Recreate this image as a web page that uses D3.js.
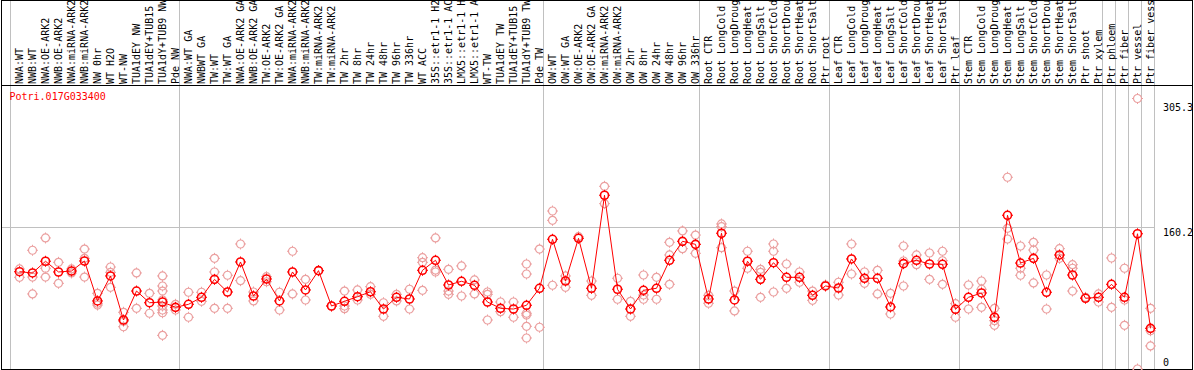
<!DOCTYPE html>
<html><head><meta charset="utf-8">
<script src="https://cdn.jsdelivr.net/npm/d3@7"></script>
<style>html,body{margin:0;padding:0;background:#fff;overflow:hidden}</style>
</head><body>
<svg id="c" width="1194" height="370"></svg>
<script>
const title = "Potri.017G033400";
const categories = ["NWA:WT","NWB:WT","NWA:OE-ARK2","NWB:OE-ARK2","NWA:miRNA-ARK2","NWB:miRNA-ARK2","NW 0hr","WT H2O","WT-NW","TUA1dEY NW","TUA1dEY+TUB15","TUA1dY+TUB9 NW","Pde NW",
"NWA:WT GA","NWBWT GA","TW:WT","TW:WT GA","NWA:OE-ARK2 GA","NWB:OE-ARK2 GA","TW:OE-ARK2","TW:OE-ARK2 GA","NWA:miRNA-ARK2","NWB:miRNA-ARK2","TW:miRNA-ARK2","TW:miRNA-ARK2","TW 2hr","TW 8hr","TW 24hr","TW 48hr","TW 96hr","TW 336hr","WT ACC","35S::etr1-1 H2O","35S::etr1-1 ACC","LMX5::etr1-1 H2O","LMX5::etr1-1 ACC","WT-TW","TUA1dEY TW","TUA1dEY+TUB15","TUA1dY+TUB9 TW","Pde TW",
"OW:WT","OW:WT GA","OW:OE-ARK2","OW:OE-ARK2 GA","OW:miRNA-ARK2","OW:miRNA-ARK2","OW 2hr","OW 8hr","OW 24hr","OW 48hr","OW 96hr","OW 336hr",
"Root CTR","Root LongCold","Root LongDrought","Root LongHeat","Root LongSalt","Root ShortCold","Root ShortDrought","Root ShortHeat","Root ShortSalt","Ptr root",
"Leaf CTR","Leaf LongCold","Leaf LongDrought","Leaf LongHeat","Leaf LongSalt","Leaf ShortCold","Leaf ShortDrought","Leaf ShortHeat","Leaf ShortSalt","Ptr leaf",
"Stem CTR","Stem LongCold","Stem LongDrought","Stem LongHeat","Stem LongSalt","Stem ShortCold","Stem ShortDrought","Stem ShortHeat","Stem ShortSalt","Ptr shoot","Ptr xylem",
"Ptr phloem","Ptr fiber","Ptr vessel","Ptr fiber vessel"];
const groupSizes = [13,28,12,10,10,11,1,1,1,1];
const means = [109.8,108.4,121.6,109.5,110.6,121.9,76.8,105.0,55.3,88.0,74.8,75.6,69.6,
73.0,80.9,101.2,86.9,120.8,82.4,101.6,76.8,109.5,89.2,111.0,71.1,76.4,81.6,87.2,67.7,80.9,79.0,111.4,122.7,94.8,99.0,94.5,75.6,68.5,67.7,71.9,91.1,
146.4,99.3,147.5,91.1,196.1,90.0,67.7,88.8,91.1,122.7,144.1,140.7,
79.0,153.2,77.9,121.6,101.2,120.0,103.5,103.5,83.2,93.7,
91.4,124.2,102.4,102.4,70.0,118.9,122.7,118.5,118.2,67.4,
80.9,85.8,58.4,173.5,119.6,124.9,86.6,128.7,106.1,79.8,80.9,
95.6,80.9,152.65,45.9];
const replicates = [[112.9,103.5],[134.0,103.8,84.7],[147.9,113.7,103.8],[120.4,96.7],[112.9,108.4],[135.4,124.9,103.8],[85.4,74.2,72.2],[115.1,109.1,92.2],[64.0,53.8,47.7],[108.4,68.5],[85.4,62.9],[105.0,93.7,88.0,77.9,71.1,66.6,63.5,38.0],[73.0,66.6],
[86.6,58.4],[86.6,76.4],[124.9,109.5,68.5],[105.8,68.5],[141.1,99.7],[86.9,76.8],[104.2,98.5],[86.6,66.6],[132.9,84.7],[101.2,77.9],[111.0],[71.1],[88.0,71.1,68.1],[89.2,77.9],[92.9,84.3],[74.8,59.5],[84.3,76.8],[90.0,67.7],[125.6,120.4,88.8],[147.9,111.7,109.5],[112.5,88.0,84.3],[116.3,82.4],[100.5,84.7],[86.9,84.3,55.3],[75.6,64.7],[75.6,58.4],[118.5,107.2,62.9,60.9,48.2,35.0],[135.4,47.1],
[178.3,167.8,94.5],[105.0,92.2],[149.3],[99.3,83.2],[206.2,186.6],[102.4,78.7],[76.4,59.5],[106.1,83.5,78.7],[103.5,78.7],[143.0,128.7,95.6],[155.8,135.8],[151.2,130.6],
[83.2,74.2],[163.7,160.6,136.9],[88.0,65.5],[132.9,113.7],[112.5,109.1,80.9],[141.1,132.9,86.9],[118.5,91.1],[109.5,97.9],[88.0,77.5],[94.8],
[97.9,83.5],[141.1,107.2],[109.5,96.7],[111.4,84.7],[85.4,62.1],[138.8,121.9,93.7],[128.7,117.7],[130.9,101.2],[132.9,122.2,95.6],[73.7,58.4],
[94.8,67.7],[99.3,90.0,69.6],[68.5,54.5,49.3],[216.4,158.8,146.7],[138.8,113.7,105.8],[143.0,134.3,97.1],[106.1,67.7],[135.8,124.9],[117.7,113.7,88.0],[80.9],[84.7,75.6],
[125.3,69.6],[113.7,77.9,49.3],[305.3,0],[68.5,43.2,26.0]];
const yTicks = [0,160.2,305.3];

const svg = d3.select("#c");
const W = 1194, H = 370;
const headerBottom = 85.5, plotBottom = 369.5;
const x = d3.scaleBand().domain(d3.range(categories.length)).range([10.5, 10.5 + 13*categories.length]).paddingInner(0).paddingOuter(0);
const cx = i => x(i) + 9;
const y = d3.scaleLinear().domain([0, 305.3]).range([369, 98.5]);
const font = "'DejaVu Sans Mono', monospace";

// group separators
const bounds = [0];
groupSizes.reduce((acc, s) => { bounds.push(acc + s); return acc + s; }, 0);
svg.append("g").selectAll("line").data(bounds).join("line")
  .attr("x1", k => k < categories.length ? x(k) : x(categories.length-1) + x.bandwidth())
  .attr("x2", k => k < categories.length ? x(k) : x(categories.length-1) + x.bandwidth())
  .attr("y1", 0).attr("y2", plotBottom)
  .attr("stroke", "#c0c0c0").attr("stroke-width", 1);
const xEnd = x(categories.length-1) + x.bandwidth();
// horizontal grid at middle tick
svg.append("line").attr("x1", 1).attr("x2", xEnd).attr("y1", Math.round(y(160.2))+0.5).attr("y2", Math.round(y(160.2))+0.5)
  .attr("stroke", "#c0c0c0").attr("stroke-width", 1);

// category labels
svg.append("g").selectAll("text").data(categories).join("text")
  .attr("transform", (d,i) => `translate(${cx(i)+3},84) rotate(-90)`)
  .attr("font-family", font).attr("font-size", 10).attr("fill", "#000")
  .text(d => d);

// borders
const bc = "#000";
svg.append("line").attr("x1",1.5).attr("x2",1.5).attr("y1",0).attr("y2",H).attr("stroke",bc);
svg.append("line").attr("x1",1192.5).attr("x2",1192.5).attr("y1",0).attr("y2",H).attr("stroke",bc);
svg.append("line").attr("x1",1).attr("x2",1193).attr("y1",0.5).attr("y2",0.5).attr("stroke",bc);
svg.append("line").attr("x1",1).attr("x2",1193).attr("y1",headerBottom).attr("y2",headerBottom).attr("stroke",bc);
svg.append("line").attr("x1",1).attr("x2",1193).attr("y1",plotBottom).attr("y2",plotBottom).attr("stroke",bc);

// title
svg.append("text").attr("x", 9.5).attr("y", 100).attr("font-family", font).attr("font-size", 10)
  .attr("fill", "#ff0000").text(title);

// y axis labels (right)
svg.append("g").selectAll("text").data(yTicks).join("text")
  .attr("x", 1163).attr("y", v => Math.max(111, Math.min(365.5, y(v) + 9)))
  .attr("font-family", font).attr("font-size", 10).attr("fill", "#000")
  .text(v => v);

function marker(g, color, sw) {
  g.append("circle").attr("r", 4).attr("fill", "none").attr("stroke", color).attr("stroke-width", sw);
  [[0,-4,0,-5.5],[0,4,0,5.5],[-4,0,-5.5,0],[4,0,5.5,0]].forEach(s =>
    g.append("line").attr("x1",s[0]).attr("y1",s[1]).attr("x2",s[2]).attr("y2",s[3]).attr("stroke",color).attr("stroke-width",1));
}

// replicates
const reps = [];
replicates.forEach((arr, i) => arr.forEach(v => reps.push({i, v})));
svg.append("g").selectAll("g").data(reps).join("g")
  .attr("transform", d => `translate(${cx(d.i)},${y(d.v)})`)
  .each(function(){ marker(d3.select(this), "#eba0a0", 1.2); });

// mean line
svg.append("path").datum(means)
  .attr("d", d3.line().x((d,i) => cx(i)).y(d => y(d)))
  .attr("fill", "none").attr("stroke", "#ff0000").attr("stroke-width", 1);

// mean markers
svg.append("g").selectAll("g").data(means).join("g")
  .attr("transform", (d,i) => `translate(${cx(i)},${y(d)})`)
  .each(function(){ marker(d3.select(this), "#ff0000", 1.6); });
</script>
</body></html>
